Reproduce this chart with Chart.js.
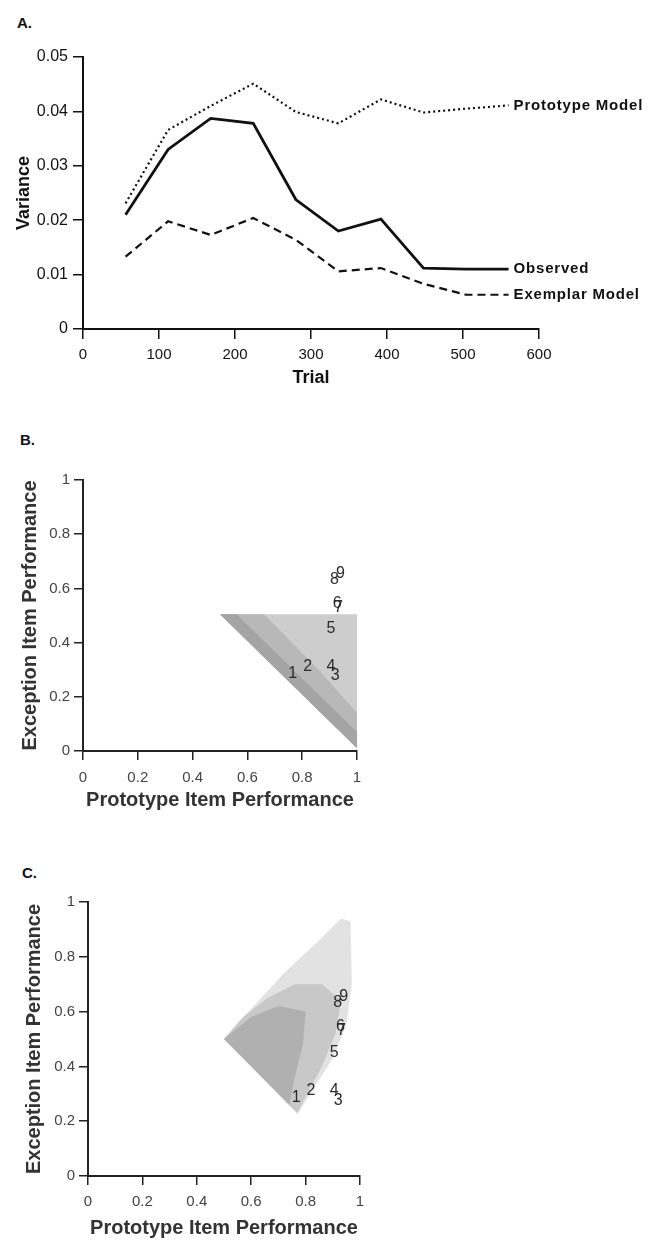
<!DOCTYPE html>
<html>
<head>
<meta charset="utf-8">
<script src="https://cdn.jsdelivr.net/npm/chart.js@4.4.1/dist/chart.umd.min.js"></script>
<style>
body{margin:0;background:#fff;width:649px;height:1240px;position:relative;overflow:hidden;font-family:"Liberation Sans",Arial,sans-serif}
canvas{position:absolute;left:0}
.tag{position:absolute;font-weight:bold;font-size:15px;color:#111}
</style>
</head>
<body>
<div class="tag" style="left:17px;top:14px">A.</div>
<div class="tag" style="left:20px;top:431px">B.</div>
<div class="tag" style="left:22px;top:864px">C.</div>
<canvas id="chartA" width="649" height="400" style="top:0"></canvas>
<canvas id="chartB" width="649" height="420" style="top:400px"></canvas>
<canvas id="chartC" width="649" height="420" style="top:820px"></canvas>
<script>
// panel A: variance by trial
var trials = [56, 112, 168, 224, 280, 336, 392, 448, 504, 560];
var observed = [0.021, 0.033, 0.0387, 0.0378, 0.0238, 0.018, 0.0202, 0.0112, 0.011, 0.011];
var prototypeModel = [0.0231, 0.0366, 0.041, 0.0451, 0.0399, 0.0378, 0.0422, 0.0398, 0.0405, 0.0411];
var exemplarModel = [0.0133, 0.0198, 0.0173, 0.0204, 0.0164, 0.0106, 0.0112, 0.0083, 0.0063, 0.0063];
var seriesNames = ['Prototype Model', 'Observed', 'Exemplar Model'];

// panels B and C: observed items (prototype perf, exception perf)
var itemNames = ['1', '2', '3', '4', '5', '6', '7', '8', '9'];
var itemProto = [0.765, 0.82, 0.92, 0.905, 0.905, 0.928, 0.932, 0.918, 0.94];
var itemExcept = [0.285, 0.31, 0.277, 0.311, 0.45, 0.545, 0.53, 0.633, 0.655];

// simulated model regions, outlines (outer to dense)
var protoOuterX = [0.5, 1.0, 1.0];
var protoOuterY = [0.505, 0.505, 0.01];
var protoMidX = [0.5, 0.66, 0.86, 1.0, 1.0];
var protoMidY = [0.505, 0.505, 0.3, 0.14, 0.01];
var protoDenseX = [0.5, 0.56, 1.0, 1.0];
var protoDenseY = [0.505, 0.505, 0.07, 0.01];

var exOuterX = [0.5, 0.77, 0.83, 0.9, 0.95, 0.97, 0.965, 0.93, 0.85, 0.72, 0.6];
var exOuterY = [0.5, 0.225, 0.32, 0.43, 0.55, 0.7, 0.93, 0.94, 0.86, 0.74, 0.61];
var exMidX = [0.5, 0.77, 0.8, 0.86, 0.91, 0.93, 0.86, 0.76, 0.66, 0.57];
var exMidY = [0.5, 0.23, 0.29, 0.4, 0.52, 0.64, 0.7, 0.7, 0.65, 0.58];
var exDenseX = [0.5, 0.74, 0.76, 0.79, 0.8, 0.7, 0.6];
var exDenseY = [0.5, 0.26, 0.36, 0.48, 0.6, 0.62, 0.58];

Chart.defaults.font.family = '"Liberation Sans", Arial, sans-serif';

var endLabels = {
  id: 'endLabels',
  afterDatasetsDraw: function(chart){
    var ctx = chart.ctx
    chart.data.datasets.forEach(function(ds, i){
      var pts = chart.getDatasetMeta(i).data
      var last = pts[pts.length - 1]
      ctx.save()
      ctx.font = 'bold 15px "Liberation Sans", Arial'
      ctx.letterSpacing = '0.8px'
      ctx.fillStyle = '#111'
      ctx.textBaseline = 'middle'
      ctx.fillText(ds.label, last.x + 5, last.y)
      ctx.restore()
    })
  }
};

var itemLabels = {
  id: 'itemLabels',
  afterDatasetsDraw: function(chart){
    var ctx = chart.ctx
    chart.data.datasets.forEach(function(ds, i){
      if (!ds.itemText) return
      var meta = chart.getDatasetMeta(i)
      ctx.save()
      ctx.font = '16px "Liberation Sans", Arial'
      ctx.fillStyle = '#2a2a2a'
      ctx.textAlign = 'center'
      ctx.textBaseline = 'middle'
      meta.data.forEach(function(pt, j){ ctx.fillText(ds.itemText[j], pt.x, pt.y) })
      ctx.restore()
    })
  }
};

function toPoints(xs, ys){
  var pts = xs.map(function(x, i){ return {x: x, y: ys[i]} })
  pts.push({x: xs[0], y: ys[0]})
  return pts
}

function region(xs, ys, color, order){
  return {
    data: toPoints(xs, ys),
    showLine: true,
    fill: 'shape',
    backgroundColor: color,
    borderColor: 'rgba(0,0,0,0)',
    borderWidth: 0,
    pointRadius: 0,
    order: order
  }
}

function lineSeries(name, values, width, dash){
  return {
    label: name,
    data: trials.map(function(t, i){ return {x: t, y: values[i]} }),
    borderColor: '#111',
    borderWidth: width,
    borderDash: dash,
    pointRadius: 0,
    tension: 0
  }
}

var axisBorder = {display: true, color: '#111', width: 2};

// ---- A
new Chart(document.getElementById('chartA').getContext('2d'), {
  type: 'scatter',
  data: {
    datasets: [
      lineSeries(seriesNames[0], prototypeModel, 2.2, [2, 3]),
      lineSeries(seriesNames[1], observed, 2.8, []),
      lineSeries(seriesNames[2], exemplarModel, 2.2, [8, 5])
    ]
  },
  options: {
    responsive: false,
    animation: false,
    showLine: true,
    layout: {padding: {left: 0, top: 57, right: 110, bottom: 0}},
    plugins: {legend: {display: false}, tooltip: {enabled: false}},
    scales: {
      x: {
        type: 'linear', min: 0, max: 600,
        afterFit: function(s){ s.height = 71 },
        ticks: {stepSize: 100, font: {size: 15}, color: '#111', padding: 7},
        grid: {drawOnChartArea: false, tickLength: 10, color: '#111', lineWidth: 1.5},
        border: axisBorder,
        title: {display: true, text: 'Trial', font: {size: 18, weight: 'bold'}, color: '#111', padding: {top: 0, bottom: 11}}
      },
      y: {
        min: 0, max: 0.05,
        afterFit: function(s){ s.width = 83 },
        ticks: {stepSize: 0.01, font: {size: 16}, color: '#111', padding: 5,
          callback: function(v){ return v === 0 ? '0' : v.toFixed(2) }},
        grid: {drawOnChartArea: false, tickLength: 10, color: '#111', lineWidth: 1.5},
        border: axisBorder,
        title: {display: true, text: 'Variance', font: {size: 18, weight: 'bold'}, color: '#111', padding: {top: 13, bottom: 0}}
      }
    }
  },
  plugins: [endLabels]
});

// ---- B and C
function showScatter(id, layers, box){
  var datasets = layers.slice()
  datasets.push({
    data: itemProto.map(function(x, i){ return {x: x, y: itemExcept[i]} }),
    itemText: itemNames,
    pointRadius: 0,
    order: 0
  })
  new Chart(document.getElementById(id).getContext('2d'), {
    type: 'scatter',
    data: {datasets: datasets},
    options: {
      responsive: false,
      animation: false,
      layout: {padding: {left: 0, top: box.top, right: box.right, bottom: 0}},
      plugins: {legend: {display: false}, tooltip: {enabled: false}},
      scales: {
        x: {
          type: 'linear', min: 0, max: 1,
          afterFit: function(s){ s.height = box.xh },
          ticks: {stepSize: 0.2, font: {size: 15}, color: '#444', padding: box.xpad,
            callback: function(v){ return v === 0 ? '0' : (v === 1 ? '1' : v.toFixed(1)) }},
          grid: {drawOnChartArea: false, tickLength: 9, color: '#222', lineWidth: 1.5},
          border: {display: true, color: '#222', width: 2},
          title: {display: true, text: 'Prototype Item Performance', font: {size: 20, weight: 'bold'}, color: '#333', padding: {top: 0, bottom: box.xtpad}}
        },
        y: {
          min: 0, max: 1,
          afterFit: function(s){ s.width = box.yw },
          ticks: {stepSize: 0.2, font: {size: 15}, color: '#444', padding: 4,
            callback: function(v){ return v === 0 ? '0' : (v === 1 ? '1' : v.toFixed(1)) }},
          grid: {drawOnChartArea: false, tickLength: 9, color: '#222', lineWidth: 1.5},
          border: {display: true, color: '#222', width: 2},
          title: {display: true, text: 'Exception Item Performance', font: {size: 20, weight: 'bold'}, color: '#333', padding: {top: box.ytpad, bottom: 0}}
        }
      }
    },
    plugins: [itemLabels]
  })
}

showScatter('chartB', [
  region(protoOuterX, protoOuterY, '#cdcdcd', 3),
  region(protoMidX, protoMidY, '#b8b8b8', 2),
  region(protoDenseX, protoDenseY, '#a4a4a4', 1)
], {top: 80, right: 292, xh: 69, yw: 83, xpad: 9, xtpad: 8, ytpad: 18});

showScatter('chartC', [
  region(exOuterX, exOuterY, '#e2e2e2', 3),
  region(exMidX, exMidY, '#c8c8c8', 2),
  region(exDenseX, exDenseY, '#b0b0b0', 1)
], {top: 82, right: 289, xh: 64, yw: 88, xpad: 8, xtpad: 0, ytpad: 22});
</script>
</body>
</html>
